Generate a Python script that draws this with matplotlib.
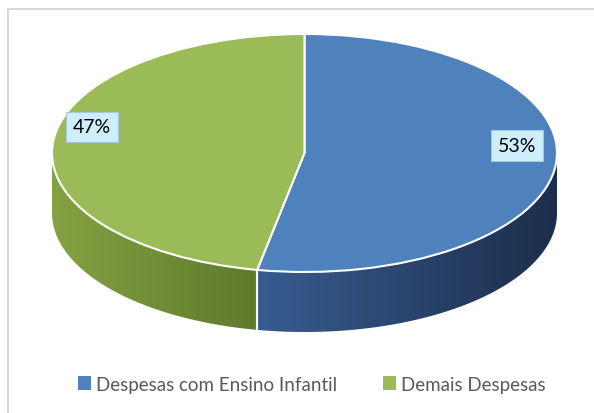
import numpy as np
from matplotlib import pyplot as plt
from matplotlib.patches import Polygon, Patch, Rectangle
from matplotlib.colors import to_rgb

# Dados do gráfico
categorias = ['Despesas com Ensino Infantil', 'Demais Despesas']
valores = [53, 47]
rotulos = ['53%', '47%']

cores_topo = ['#4f81bd', '#9bbb59']
# cores da lateral (claro -> escuro, conforme x)
cores_lado = [('#385c91', '#1c2e4b'), ('#84a242', '#5f792b')]

plt.rcParams['font.family'] = ['Lato', 'DejaVu Sans']

fig = plt.figure(figsize=(5.94, 4.14), dpi=100)
W, H = 594, 414

# posição da pizza em pixels
esq, dir_, topo, ry_px, prof_px = 52, 557, 35, 119, 60
prof = prof_px / ry_px
base = topo + 2 * ry_px + prof_px
ax = fig.add_axes([esq / W, (H - base) / H, (dir_ - esq) / W, (base - topo) / H])

# topo da pizza
wedges, _ = ax.pie(valores, colors=cores_topo, startangle=90, counterclock=False,
                   radius=1, center=(0, 0),
                   wedgeprops=dict(edgecolor='white', linewidth=1.5, zorder=5))
ax.set_aspect('auto')
ax.set_xlim(-1, 1)
ax.set_ylim(-1 - prof, 1)
ax.axis('off')

# ângulos das fatias
fracs = np.array(valores) / sum(valores)
inicio = 90.0
angulos = []
for f in fracs:
    fim = inicio - 360 * f
    angulos.append((fim, inicio))
    inicio = fim


def parte_visivel(a1, a2):
    # intersecção com a metade da frente (seno < 0)
    partes = []
    for k in (-360, 0, 360):
        lo, hi = max(a1, -180 + k), min(a2, 0 + k)
        if hi > lo:
            partes.append((lo, hi))
    return partes


# laterais com degradê (imagem recortada pelo contorno)
for (a1, a2), (c1, c2) in zip(angulos, cores_lado):
    c1, c2 = np.array(to_rgb(c1)), np.array(to_rgb(c2))
    for lo, hi in parte_visivel(a1, a2):
        ts = np.radians(np.linspace(lo, hi, 200))
        pts = np.column_stack([np.cos(ts), np.sin(ts)])
        pts = np.vstack([pts, pts[::-1] - [0, prof]])
        contorno = Polygon(pts, closed=True, facecolor='none', edgecolor='none', zorder=2)
        ax.add_patch(contorno)
        xmin, xmax = pts[:, 0].min(), pts[:, 0].max()
        u = np.linspace(0, 1, 256)
        img = (c1[None, :] + (c2 - c1)[None, :] * u[:, None])[None, :, :]
        im = ax.imshow(img, extent=(xmin, xmax, pts[:, 1].min(), pts[:, 1].max()),
                       aspect='auto', interpolation='bilinear', zorder=2)
        im.set_clip_path(contorno)
ax.set_xlim(-1, 1)
ax.set_ylim(-1 - prof, 1)

# linha branca na divisão das fatias (frente)
for a1, a2 in angulos:
    for a in (a1, a2):
        t = np.radians(a)
        if np.sin(t) < 0:
            ax.plot([np.cos(t)] * 2, [np.sin(t), np.sin(t) - prof],
                    color='white', lw=1.5, zorder=3)

# rótulos de porcentagem
for (a1, a2), txt in zip(angulos, rotulos):
    m = np.radians((a1 + a2) / 2)
    ax.text(0.845 * np.cos(m), 0.845 * np.sin(m) + 0.14, txt, ha='center', va='center',
            fontsize=14, color='black', zorder=10,
            bbox=dict(boxstyle='square,pad=0.35', fc='#cdeefa', ec='#a6c8d8', lw=0.8))

# legenda
handles = [Patch(facecolor=c, edgecolor='none') for c in cores_topo]
fig.legend(handles, categorias, loc='center', bbox_to_anchor=(0.525, 0.07), ncol=2,
           frameon=False, fontsize=13.5, handlelength=0.7, handleheight=0.7,
           handletextpad=0.3, columnspacing=2.4, labelcolor='#595959')

# borda do gráfico
fig.patches.append(Rectangle((7.5 / W, -0.1), 1.2, 1.1 - 9.5 / H, transform=fig.transFigure,
                             fill=False, edgecolor='#d9d9d9', linewidth=1.5))

plt.savefig('out.png', dpi=100)
